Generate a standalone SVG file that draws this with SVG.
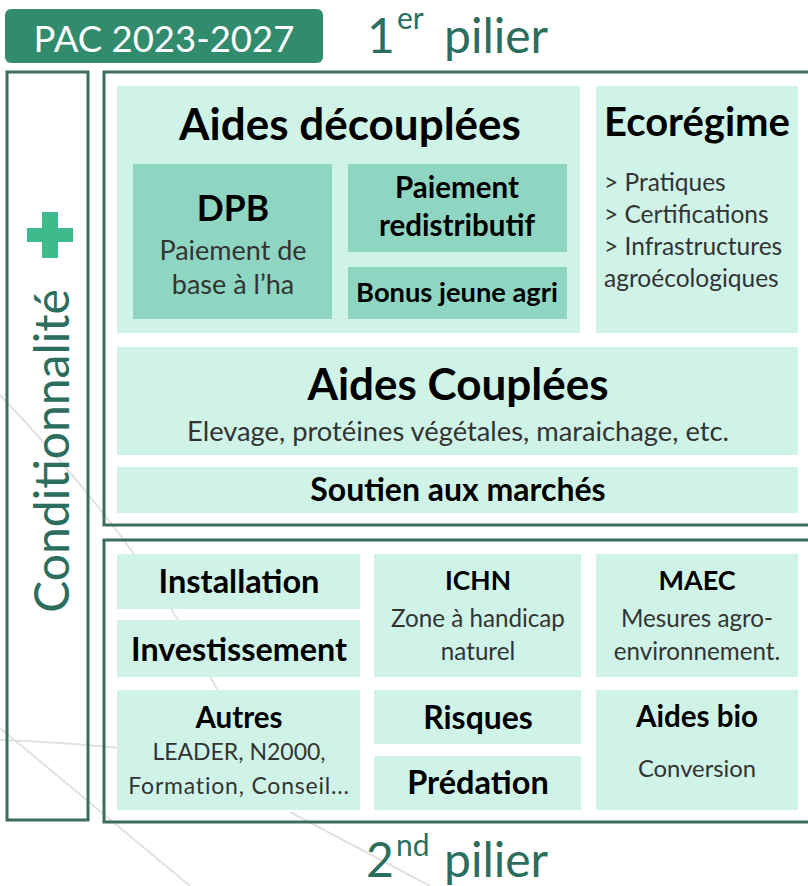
<svg xmlns="http://www.w3.org/2000/svg" width="808" height="886" viewBox="0 0 808 886">
<style>
.bg{fill:none;stroke:#e2e2e2;stroke-width:2}
.frame{fill:none;stroke:#3b6e5f;stroke-width:3}
.lt{fill:#cff4e7}
.md{fill:#8ed6c1}
text{font-family:Lato,"Open Sans","DejaVu Sans",sans-serif;text-anchor:middle}
text.l{text-anchor:start}
.b{font-weight:bold;fill:#000}
.s{fill:#333}
.g{fill:#2b6e5e}
</style>
<rect width="808" height="886" fill="#fff"/>
<g id="background-lines">
<path class="bg" d="M0,395 Q110,510 175,615 T260,800"/>
<path class="bg" d="M0,728 L190,886"/>
<path class="bg" d="M0,740 Q60,742 120,748"/>
<path class="bg" d="M290,812 L430,886"/>
</g>
<g id="header">
<rect x="5" y="9" width="318" height="54" rx="6" fill="#318b6d"/>
<text x="164" y="52" font-size="36.5" fill="#fff">PAC 2023-2027</text>
<text class="g l" x="367" y="53" font-size="48">1</text>
<text class="g l" x="397" y="29" font-size="30">er</text>
<text class="g l" x="444" y="53" font-size="48">pilier</text>
</g>
<g id="conditionnalite">
<rect class="frame" x="7" y="72" width="81" height="748"/>
<text transform="translate(69,451) rotate(-90)" font-size="48" class="g">Conditionnalité</text>
<path d="M27,228 H73 V242 H27 Z M42,212 H58 V258 H42 Z" fill="#3dbb8d"/>
</g>
<g id="pilier1">
<rect class="frame" x="104" y="72" width="710" height="453"/>
</g>
<g id="aides-decouplees">
<rect class="lt" x="117" y="86" width="463" height="247"/>
<text class="b" x="350" y="140" font-size="44">Aides découplées</text>
</g>
<g id="dpb">
<rect class="md" x="133" y="164" width="199" height="155"/>
<text class="b" x="233" y="221" font-size="35.5">DPB</text>
<text class="s" x="233" y="260" font-size="27">Paiement de</text>
<text class="s" x="233" y="294" font-size="27">base à l’ha</text>
</g>
<g id="paiement-redistributif">
<rect class="md" x="348" y="164" width="219" height="88"/>
<text class="b" x="457" y="198" font-size="29.5">Paiement</text>
<text class="b" x="457" y="236" font-size="29.5">redistributif</text>
</g>
<g id="bonus-jeune-agri">
<rect class="md" x="348" y="267" width="219" height="52"/>
<text class="b" x="457" y="302" font-size="27.3">Bonus jeune agri</text>
</g>
<g id="ecoregime">
<rect class="lt" x="596" y="86" width="202" height="247"/>
<text class="b" x="697" y="136" font-size="40">Ecorégime</text>
<text class="s l" x="604" y="191" font-size="24.5">&gt; Pratiques</text>
<text class="s l" x="604" y="223" font-size="24.5">&gt; Certifications</text>
<text class="s l" x="604" y="255" font-size="24.5">&gt; Infrastructures</text>
<text class="s l" x="604" y="287" font-size="24.5">agroécologiques</text>
</g>
<g id="aides-couplees">
<rect class="lt" x="117" y="347" width="681" height="108"/>
<text class="b" x="458" y="400" font-size="44">Aides Couplées</text>
<text class="s" x="458" y="441" font-size="27.3">Elevage, protéines végétales, maraichage, etc.</text>
</g>
<g id="soutien-marches">
<rect class="lt" x="117" y="467" width="681" height="46"/>
<text class="b" x="458" y="501" font-size="32">Soutien aux marchés</text>
</g>
<g id="pilier2">
<rect class="frame" x="104" y="540" width="710" height="282"/>
<text class="g l" x="366" y="877" font-size="48">2</text>
<text class="g l" x="396" y="856" font-size="30">nd</text>
<text class="g l" x="444" y="877" font-size="48">pilier</text>
</g>
<g id="installation">
<rect class="lt" x="117" y="554" width="243" height="55"/>
<text class="b" x="239" y="593" font-size="32.5">Installation</text>
</g>
<g id="investissement">
<rect class="lt" x="117" y="620" width="243" height="57"/>
<text class="b" x="239" y="661" font-size="32.3">Investissement</text>
</g>
<g id="autres">
<rect class="lt" x="117" y="690" width="243" height="120"/>
<text class="b" x="239" y="728" font-size="29.5">Autres</text>
<text class="s" x="239" y="760" font-size="23">LEADER, N2000,</text>
<text class="s" x="239" y="794" font-size="23" letter-spacing="0.8">Formation, Conseil...</text>
</g>
<g id="ichn">
<rect class="lt" x="374" y="554" width="207" height="123"/>
<text class="b" x="478" y="590" font-size="26.4">ICHN</text>
<text class="s" x="478" y="627" font-size="24.2">Zone à handicap</text>
<text class="s" x="478" y="660" font-size="24.2">naturel</text>
</g>
<g id="maec">
<rect class="lt" x="596" y="554" width="202" height="123"/>
<text class="b" x="697" y="590" font-size="27">MAEC</text>
<text class="s" x="697" y="627" font-size="24.2">Mesures agro-</text>
<text class="s" x="697" y="660" font-size="24.2">environnement.</text>
</g>
<g id="risques">
<rect class="lt" x="374" y="690" width="207" height="54"/>
<text class="b" x="478" y="729" font-size="31.9">Risques</text>
</g>
<g id="predation">
<rect class="lt" x="374" y="756" width="207" height="54"/>
<text class="b" x="478" y="794" font-size="32.5">Prédation</text>
</g>
<g id="aides-bio">
<rect class="lt" x="596" y="690" width="202" height="120"/>
<text class="b" x="697" y="727" font-size="29.6">Aides bio</text>
<text class="s" x="697" y="777" font-size="23.8">Conversion</text>
</g>
<g id="connectors"></g>
</svg>
